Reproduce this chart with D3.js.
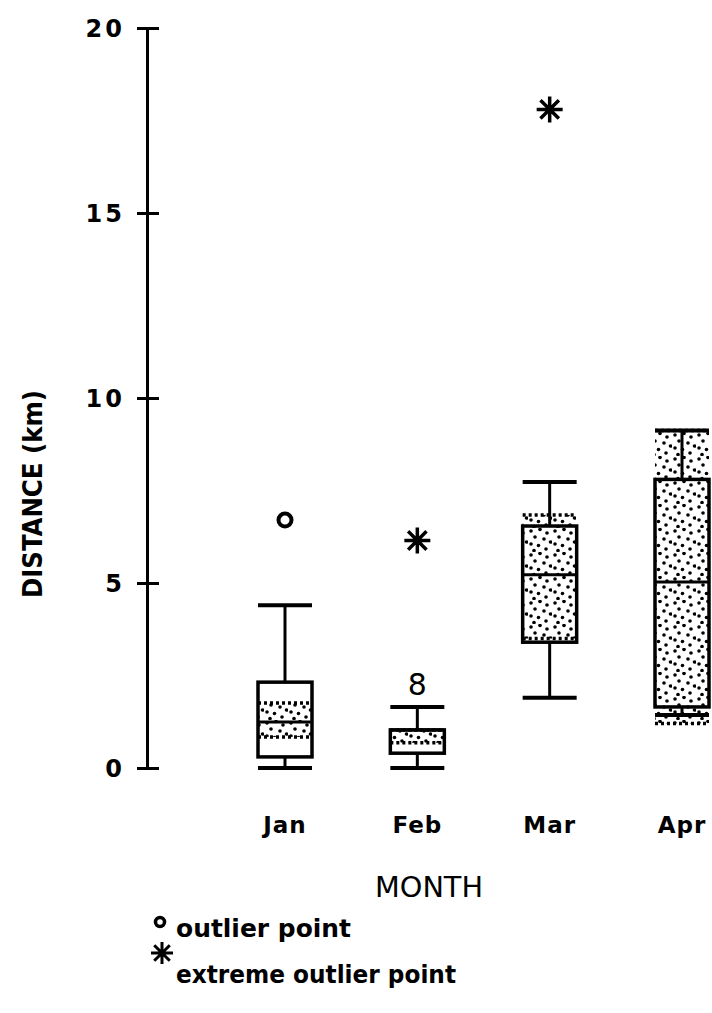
<!DOCTYPE html>
<html><head><meta charset="utf-8">
<script src="https://cdn.jsdelivr.net/npm/d3@7"></script>
<style>html,body{margin:0;padding:0;background:#fff;}svg{display:block;}</style>
</head><body>
<svg id="chart" width="712" height="1013"></svg>
<script>
const months = ["Jan", "Feb", "Mar", "Apr"];
const whiskerLow = [0, 0, 1.9, 1.43];
const q1 = [0.3, 0.4, 3.4, 1.65];
const median = [1.24, 1.03, 5.22, 5.03];
const q3 = [2.32, 1.03, 6.54, 7.8];
const whiskerHigh = [4.4, 1.65, 7.73, 9.12];
const ciLow = [0.84, 0.68, 3.5, 1.2];
const ciHigh = [1.76, 1.03, 6.84, 9.12];
const outlierMonth = ["Jan", "Feb", "Mar"];
const outlierValue = [6.7, 6.15, 17.8];
const outlierType = ["outlier", "extreme", "extreme"];
const noteMonth = ["Feb"];
const noteValue = [1.97];
const noteText = ["8"];
const yTicks = [0, 5, 10, 15, 20];
const legendLabels = ["outlier point", "extreme outlier point"];

const svg = d3.select("#chart");
const y = d3.scaleLinear().domain([0, 20]).range([768, 28]);
const x = d3.scalePoint().domain(months).range([285, 682]);
const cx = m => x(m);
const bw = 54;

// stipple pattern
const defs = svg.append("defs");
const pat = defs.append("pattern").attr("id", "stip").attr("patternUnits", "userSpaceOnUse")
  .attr("width", 24).attr("height", 24);
pat.append("rect").attr("width", 24).attr("height", 24).attr("fill", "#fff");
[[3, 3], [12, 1.5], [19, 5], [7, 9], [16, 11], [22.5, 14], [3, 16], [10.5, 17.5], [18, 21], [6, 22.5]].forEach(p =>
  pat.append("circle").attr("cx", p[0]).attr("cy", p[1]).attr("r", 1.8).attr("fill", "#000"));

const font = "'DejaVu Sans', sans-serif";
const cond = "'DejaVu Sans Condensed', 'DejaVu Sans', sans-serif";

// Y axis
const axis = svg.append("g").attr("transform", "translate(147,0)")
  .call(d3.axisLeft(y).tickValues(yTicks).tickSize(0).tickPadding(22));
axis.select(".domain").attr("stroke", "#000").attr("stroke-width", 3);
axis.selectAll(".tick text").attr("font-family", font).attr("font-weight", "bold")
  .attr("font-size", 24).attr("letter-spacing", 3).attr("fill", "#000").attr("dy", "0.35em");
axis.selectAll(".tick").append("line").attr("x1", -10).attr("x2", 12)
  .attr("stroke", "#000").attr("stroke-width", 3);

// y label
svg.append("text").attr("transform", "translate(42,494) rotate(-90)")
  .attr("text-anchor", "middle").attr("font-family", cond).attr("font-weight", "bold")
  .attr("font-size", 27).attr("textLength", 208).attr("lengthAdjust", "spacingAndGlyphs")
  .text("DISTANCE (km)");

// boxes
const g = svg.append("g");
months.forEach((m, i) => {
  const c = cx(m), l = c - bw / 2, r = c + bw / 2;
  const bg = g.append("g");
  bg.append("rect").attr("x", l).attr("width", bw)
    .attr("y", y(ciHigh[i])).attr("height", y(ciLow[i]) - y(ciHigh[i]))
    .attr("fill", "url(#stip)");
  [ciLow[i], ciHigh[i]].forEach(v => bg.append("line").attr("x1", l).attr("x2", r)
    .attr("y1", y(v)).attr("y2", y(v)).attr("stroke", "#000").attr("stroke-width", 3.5)
    .attr("stroke-dasharray", "3,3"));
  bg.append("line").attr("x1", c).attr("x2", c).attr("y1", y(whiskerHigh[i])).attr("y2", y(q3[i]))
    .attr("stroke", "#000").attr("stroke-width", 3);
  bg.append("line").attr("x1", c).attr("x2", c).attr("y1", y(q1[i])).attr("y2", y(whiskerLow[i]))
    .attr("stroke", "#000").attr("stroke-width", 3);
  [whiskerLow[i], whiskerHigh[i]].forEach(v => bg.append("line").attr("x1", l).attr("x2", r)
    .attr("y1", y(v)).attr("y2", y(v)).attr("stroke", "#000").attr("stroke-width", 4));
  bg.append("rect").attr("x", l).attr("width", bw).attr("y", y(q3[i]))
    .attr("height", y(q1[i]) - y(q3[i])).attr("fill", "none").attr("stroke", "#000").attr("stroke-width", 3.5);
  bg.append("line").attr("x1", l).attr("x2", r).attr("y1", y(median[i])).attr("y2", y(median[i]))
    .attr("stroke", "#000").attr("stroke-width", 3);
});

function asterisk(sel, px, py, s, w) {
  const p = d3.path();
  for (let k = 0; k < 4; k++) {
    const a = k * Math.PI / 4;
    p.moveTo(px - s * Math.cos(a), py - s * Math.sin(a));
    p.lineTo(px + s * Math.cos(a), py + s * Math.sin(a));
  }
  sel.append("path").attr("d", p.toString()).attr("stroke", "#000").attr("stroke-width", w).attr("fill", "none");
}

outlierMonth.forEach((m, i) => {
  const px = cx(m), py = y(outlierValue[i]);
  if (outlierType[i] === "outlier") {
    g.append("circle").attr("cx", px).attr("cy", py).attr("r", 6.5).attr("fill", "none")
      .attr("stroke", "#000").attr("stroke-width", 4);
  } else {
    asterisk(g, px, py, 13, 3.5);
  }
});

noteMonth.forEach((m, i) => {
  g.append("text").attr("x", cx(m)).attr("y", y(noteValue[i])).attr("text-anchor", "middle")
    .attr("font-family", font).attr("font-size", 30).text(noteText[i]);
});

// x labels
months.forEach(m => {
  svg.append("text").attr("x", cx(m)).attr("y", 833).attr("text-anchor", "middle")
    .attr("font-family", font).attr("font-weight", "bold").attr("font-size", 23)
    .attr("letter-spacing", 1).text(m);
});
svg.append("text").attr("x", 429).attr("y", 897).attr("text-anchor", "middle")
  .attr("font-family", cond).attr("font-size", 28)
  .attr("textLength", 108).attr("lengthAdjust", "spacingAndGlyphs").text("MONTH");

// legend
const lg = svg.append("g");
lg.append("circle").attr("cx", 160).attr("cy", 922).attr("r", 4.5).attr("fill", "none")
  .attr("stroke", "#000").attr("stroke-width", 3.5);
lg.append("text").attr("x", 176).attr("y", 937).attr("font-family", font).attr("font-weight", "bold")
  .attr("font-size", 25).attr("textLength", 175).attr("lengthAdjust", "spacingAndGlyphs").text(legendLabels[0]);
asterisk(lg, 162, 953, 11, 3);
lg.append("text").attr("x", 176).attr("y", 983).attr("font-family", font).attr("font-weight", "bold")
  .attr("font-size", 25).attr("textLength", 280).attr("lengthAdjust", "spacingAndGlyphs").text(legendLabels[1]);
</script>
</body></html>
